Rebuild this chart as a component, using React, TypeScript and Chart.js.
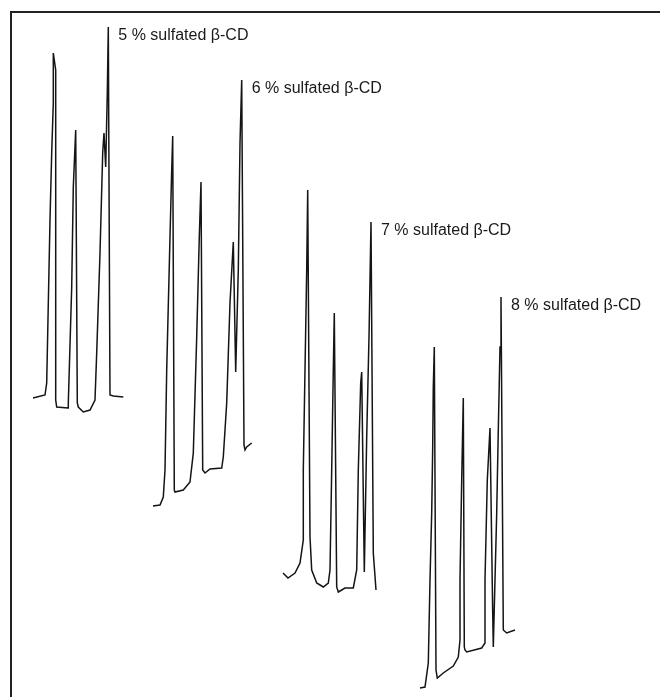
import React, { useEffect, useRef } from "react";
import { Chart, registerables } from "chart.js";

Chart.register(...registerables);

// Stacked electropherograms: migration offset (a.u.) and signal (a.u.) per trace
const labels = [
  "5 % sulfated β-CD",
  "6 % sulfated β-CD",
  "7 % sulfated β-CD",
  "8 % sulfated β-CD",
];

// stacking offsets for each trace (x shift, baseline level)
const offsetX = [33, 153, 283, 420];
const offsetY = [299, 191, 124, 9];

const time5 = [0, 12, 13.7, 17, 18.7, 20.3, 20.3, 22.7, 22.7, 23.7, 35, 35.3, 38.7, 40.3, 42.7, 44.3, 45.3, 50.3, 57, 62, 63.7, 67, 69.7, 71, 72.7, 74.3, 75.3, 77, 80.3, 90.3];
const signal5 = [0, 3, 15, 178, 245, 295, 345, 328, -2, -9, -10, -5, 111, 211, 268, -5, -9, -14, -12, -2, 45, 145, 245, 265, 231, 305, 371, 3, 2, 1];

const time6 = [0, 7, 10.3, 12, 13.7, 17, 18.7, 19.7, 21.3, 22, 30.3, 37, 40.3, 43.7, 46.3, 48, 49.7, 52, 57, 68.7, 70.3, 73.7, 77, 80.3, 82.7, 85.3, 87, 88.7, 91, 92, 93.7, 98.7];
const signal6 = [0, 1, 9, 36, 136, 269, 336, 370, 16, 14, 16, 24, 53, 169, 269, 324, 36, 33, 37, 38, 49, 103, 203, 264, 134, 236, 363, 426, 61, 56, 59, 63];

const time7 = [0, 5, 12, 17, 20.3, 20.3, 22, 23.7, 24.7, 27, 28.7, 33.7, 40.3, 45.3, 47, 48.7, 50.3, 51.3, 53.7, 55.3, 62, 70.3, 73.7, 75.3, 77.7, 78.7, 81.3, 83.7, 86, 88, 90.3, 93];
const signal7 = [0, -5, 0, 10, 33, 103, 203, 303, 383, 36, 3, -10, -14, -10, 3, 103, 203, 260, -14, -19, -15, -15, 3, 103, 190, 201, 1, 136, 236, 351, 20, -17];

const time8 = [0, 5, 8.3, 10, 11.7, 12.7, 13.3, 14.3, 16, 17.3, 23.3, 33.3, 38.3, 40, 40, 41.7, 43.3, 44.3, 45, 46.7, 61.7, 65, 65, 67.3, 70, 72.7, 73.3, 76.7, 78.3, 80, 81, 83.3, 86.7, 95];
const signal8 = [0, 1, 25, 108, 175, 241, 301, 341, 18, 10, 15, 22, 31, 48, 108, 208, 290, 41, 38, 36, 40, 45, 108, 208, 260, 75, 41, 175, 258, 341, 391, 58, 55, 58];

const times = [time5, time6, time7, time8];
const signals = [signal5, signal6, signal7, signal8];

const W = 660;
const H = 697;

const framePlugin = {
  id: "frameAndLabels",
  beforeDraw(chart: any) {
    const ctx = chart.ctx;
    ctx.save();
    ctx.fillStyle = "#ffffff";
    ctx.fillRect(0, 0, chart.width, chart.height);
    ctx.strokeStyle = "#222222";
    ctx.lineWidth = 2;
    ctx.beginPath();
    ctx.moveTo(11, H);
    ctx.lineTo(11, 12);
    ctx.lineTo(W, 12);
    ctx.stroke();
    ctx.restore();
  },
  afterDatasetsDraw(chart: any) {
    const ctx = chart.ctx;
    const xs = chart.scales.x;
    const ys = chart.scales.y;
    ctx.save();
    ctx.fillStyle = "#1a1a1a";
    ctx.font = '16px "Liberation Sans", Arial, sans-serif';
    ctx.textBaseline = "middle";
    ctx.textAlign = "left";
    chart.data.datasets.forEach((ds: any, i: number) => {
      // label sits beside the last (tallest late) peak of each trace
      const lastX = ds.data[ds.data.length - 1].x;
      let best: any = null;
      ds.data.forEach((p: any) => {
        if (p.x >= lastX - 20 && (!best || p.y > best.y)) best = p;
      });
      const px = xs.getPixelForValue(best.x);
      const py = ys.getPixelForValue(best.y);
      ctx.fillText(labels[i], px + 10, py + 9);
    });
    ctx.restore();
  },
};

export default function App() {
  const ref = useRef<HTMLCanvasElement>(null);
  useEffect(() => {
    if (!ref.current) return;
    const datasets = times.map((t, i) => ({
      label: labels[i],
      data: t.map((v, j) => ({ x: offsetX[i] + v, y: offsetY[i] + signals[i][j] })),
      borderColor: "#141414",
      borderWidth: 1.5,
      pointRadius: 0,
      tension: 0,
      fill: false,
    }));
    const chart = new Chart(ref.current, {
      type: "line",
      data: { datasets },
      options: {
        animation: false,
        responsive: false,
        layout: { padding: 0 },
        plugins: { legend: { display: false }, tooltip: { enabled: false } },
        scales: {
          x: { type: "linear", min: 0, max: W, display: false },
          y: { type: "linear", min: 0, max: H, display: false },
        },
      },
      plugins: [framePlugin],
    });
    return () => chart.destroy();
  }, []);
  return (
    <div style={{ position: "fixed", left: 0, top: 0, width: W, height: H, background: "#fff" }}>
      <canvas ref={ref} width={W} height={H} style={{ display: "block" }} />
    </div>
  );
}
